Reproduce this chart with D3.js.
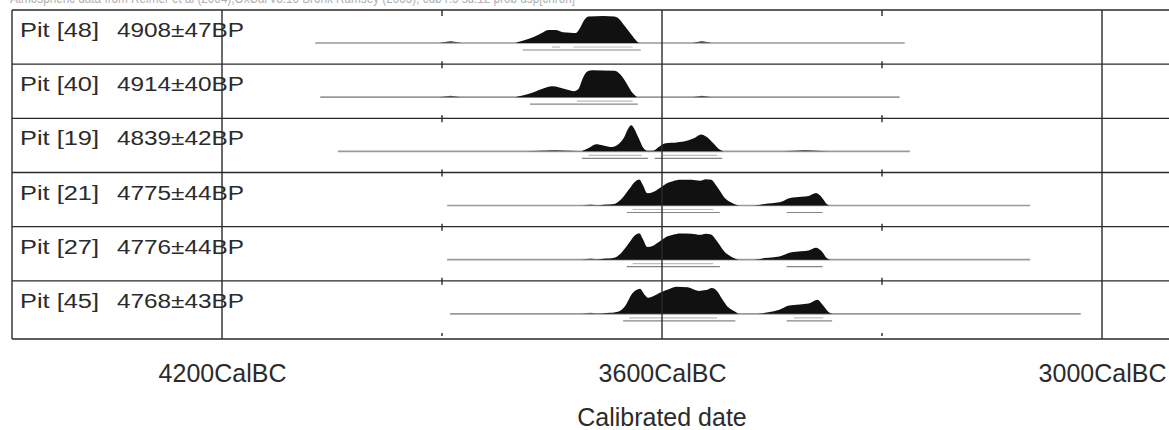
<!DOCTYPE html>
<html>
<head>
<meta charset="utf-8">
<script src="https://cdn.jsdelivr.net/npm/d3@7"></script>
<style>
body { margin: 0; background: #fff; overflow: hidden; }
text { font-family: "Liberation Sans", Arial, sans-serif; fill: #2b2b2b; }
</style>
</head>
<body>
<div id="grafica"></div>
<script>
// Datos
const muestras = ["Pit [48]", "Pit [40]", "Pit [19]", "Pit [21]", "Pit [27]", "Pit [45]"]
const fechasBP = ["4908±47BP", "4914±40BP", "4839±42BP", "4775±44BP", "4776±44BP", "4768±43BP"]
const ticksCal = [4200, 3600, 3000]
const ticksMenores = [3900, 3300]
const tituloEje = "Calibrated date"
const cabecera = "Atmospheric data from Reimer et al (2004);OxCal v3.10 Bronk Ramsey (2005); cub r:5 sd:12 prob usp[chron]"

// extension of the faint likelihood line (years BC)
const rangoGris = [[4073, 3269], [4066, 3276], [4042, 3262], [3893, 3098], [3893, 3098], [3889, 3029]]

// posterior densities [year BC, relative prob]
const densidad48 = [[3800, 0], [3790, 0.08], [3775, 0.22], [3762, 0.4], [3755, 0.48], [3745, 0.48], [3735, 0.4],
    [3725, 0.38], [3718, 0.37], [3712, 0.55], [3706, 0.85], [3700, 0.98], [3680, 1.0], [3665, 0.98],
    [3660, 0.93], [3650, 0.6], [3640, 0.25], [3633, 0.03], [3630, 0]]
const densidad40 = [[3800, 0], [3790, 0.06], [3775, 0.18], [3762, 0.32], [3750, 0.4], [3740, 0.36], [3730, 0.28],
    [3720, 0.22], [3714, 0.3], [3708, 0.7], [3702, 0.95], [3695, 1.0], [3665, 0.98], [3657, 0.85],
    [3648, 0.5], [3640, 0.15], [3634, 0]]
const densidad19 = [[3710, 0], [3700, 0.12], [3690, 0.26], [3680, 0.22], [3668, 0.16], [3660, 0.25], [3652, 0.5],
    [3646, 0.85], [3642, 0.97], [3638, 0.85], [3632, 0.5], [3626, 0.15], [3620, 0.02], [3612, 0.02],
    [3605, 0.15], [3595, 0.3], [3580, 0.33], [3565, 0.4], [3555, 0.5], [3547, 0.62], [3540, 0.55],
    [3530, 0.3], [3522, 0.08], [3516, 0]]
const densidad21 = [[3690, 0], [3680, 0.03], [3665, 0.06], [3655, 0.25], [3645, 0.6], [3636, 0.9], [3631, 0.96],
    [3626, 0.75], [3620, 0.45], [3612, 0.5], [3603, 0.65], [3595, 0.8], [3585, 0.9], [3575, 0.95],
    [3560, 0.95], [3548, 0.92], [3540, 0.97], [3533, 0.95], [3525, 0.7], [3515, 0.3], [3505, 0.1],
    [3498, 0.02], [3495, 0], [3475, 0], [3460, 0.06], [3440, 0.12], [3425, 0.28], [3410, 0.32],
    [3400, 0.35], [3390, 0.46], [3382, 0.3], [3375, 0.05], [3370, 0]]
const densidad27 = [[3690, 0], [3680, 0.03], [3665, 0.07], [3655, 0.27], [3645, 0.62], [3636, 0.92], [3631, 0.98],
    [3626, 0.76], [3620, 0.47], [3612, 0.52], [3603, 0.68], [3595, 0.83], [3585, 0.92], [3575, 0.97],
    [3560, 0.96], [3548, 0.92], [3540, 0.96], [3533, 0.93], [3525, 0.68], [3515, 0.3], [3505, 0.1],
    [3498, 0.02], [3495, 0], [3475, 0], [3460, 0.06], [3440, 0.12], [3425, 0.27], [3410, 0.31],
    [3400, 0.34], [3390, 0.44], [3382, 0.3], [3375, 0.05], [3370, 0]]
const densidad45 = [[3690, 0], [3675, 0.03], [3660, 0.08], [3650, 0.3], [3642, 0.7], [3635, 0.88], [3630, 0.93],
    [3624, 0.72], [3619, 0.6], [3610, 0.68], [3603, 0.78], [3590, 0.92], [3580, 1.0], [3565, 0.98],
    [3550, 0.85], [3540, 0.88], [3532, 0.96], [3525, 0.85], [3518, 0.55], [3510, 0.25], [3500, 0.08],
    [3494, 0], [3470, 0], [3455, 0.06], [3440, 0.15], [3428, 0.3], [3412, 0.35], [3400, 0.38],
    [3388, 0.52], [3380, 0.3], [3372, 0.05], [3368, 0]]
const densidades = [densidad48, densidad40, densidad19, densidad21, densidad27, densidad45]

// small tails on the gray line [from, to, prob]
const colas = [
    [[3904, 3873, 0.07], [3559, 3532, 0.07]],
    [[3904, 3873, 0.05], [3559, 3532, 0.05]],
    [[3784, 3709, 0.05], [3435, 3374, 0.05]],
    [[3710, 3685, 0.04]],
    [[3710, 3685, 0.04]],
    [[3710, 3685, 0.04]]
]

// 68.2% and 95.4% ranges
const rangos68 = [[[3750, 3739], [3721, 3640]], [[3716, 3640]], [[3700, 3628], [3600, 3525]],
    [[3640, 3530]], [[3640, 3530]], [[3645, 3525], [3420, 3380]]]
const rangos95 = [[[3790, 3629]], [[3780, 3633]], [[3709, 3619], [3610, 3518]],
    [[3648, 3521], [3430, 3381]], [[3648, 3521], [3430, 3381]], [[3653, 3500], [3430, 3368]]]

const anchoTotal = 1169
const altoTotal = 430

const svg = d3.select("#grafica").append("svg")
    .attr("width", anchoTotal)
    .attr("height", altoTotal)

// Escaladores
const x = d3.scaleLinear().domain([4200, 3000]).range([222, 1102])
const filas = d3.scaleBand().domain(muestras).range([10, 335])
const altoProb = d3.scaleLinear().domain([0, 1]).range([0, 27])
const bordeIzq = 12
const bordeInf = 339
const base = (i) => filas(muestras[i]) + 33

// header, cut off at the top like in the original
svg.append("text")
    .attr("x", 10).attr("y", 3)
    .attr("font-size", 15)
    .attr("textLength", 565)
    .attr("lengthAdjust", "spacingAndGlyphs")
    .style("fill", "#b0b0b0")
    .text(cabecera)

// gray likelihood lines
const g = svg.append("g")
g.selectAll(".gris").data(rangoGris).join("line")
    .attr("x1", d => x(d[0])).attr("x2", d => x(d[1]))
    .attr("y1", (d, i) => base(i)).attr("y2", (d, i) => base(i))
    .attr("stroke", "#9a9a9a").attr("stroke-width", 1.6)

colas.forEach((lista, i) => {
    g.selectAll(null).data(lista).join("path")
        .attr("d", d => `M${x(d[0])},${base(i)}L${x((d[0] + d[1]) / 2)},${base(i) - altoProb(d[2])}L${x(d[1])},${base(i)}Z`)
        .attr("fill", "#555")
})

// densities
densidades.forEach((dens, i) => {
    const area = d3.area()
        .x(d => x(d[0]))
        .y0(base(i))
        .y1(d => base(i) - altoProb(d[1]))
        .curve(d3.curveMonotoneX)
    g.append("path").datum(dens)
        .attr("d", area)
        .attr("fill", "#111")
})

// ranges
const dibujarRangos = (rangos, dy, color) => {
    rangos.forEach((lista, i) => {
        g.selectAll(null).data(lista).join("line")
            .attr("x1", d => x(d[0])).attr("x2", d => x(d[1]))
            .attr("y1", base(i) + dy).attr("y2", base(i) + dy)
            .attr("stroke", color).attr("stroke-width", 1.2)
    })
}
dibujarRangos(rangos68, 4, "#bdbdbd")
dibujarRangos(rangos95, 7, "#858585")

// frame
const marco = svg.append("g").attr("stroke", "#2a2a2a").attr("stroke-width", 1.4)
const lineasH = muestras.map(m => filas(m)).concat([bordeInf])
marco.selectAll(".h").data(lineasH).join("line")
    .attr("x1", bordeIzq).attr("x2", anchoTotal)
    .attr("y1", d => d).attr("y2", d => d)
marco.selectAll(".v").data(ticksCal).join("line")
    .attr("x1", d => x(d)).attr("x2", d => x(d))
    .attr("y1", 10).attr("y2", bordeInf)
marco.append("line")
    .attr("x1", bordeIzq).attr("x2", bordeIzq)
    .attr("y1", 10).attr("y2", bordeInf)

// small ticks on every row line
lineasH.forEach((yy, k) => {
    marco.selectAll(null).data(ticksMenores).join("line")
        .attr("x1", d => x(d)).attr("x2", d => x(d))
        .attr("y1", k === 0 ? yy : yy - 3)
        .attr("y2", k === lineasH.length - 1 ? yy - 6 : yy + (k === 0 ? 6 : 4))
})

// row labels
const etiquetas = svg.append("g")
etiquetas.selectAll(".nombre").data(muestras).join("text")
    .attr("x", 20)
    .attr("y", d => filas(d) + 27)
    .attr("font-size", 20)
    .attr("textLength", 79)
    .attr("lengthAdjust", "spacingAndGlyphs")
    .text(d => d)
etiquetas.selectAll(".fecha").data(fechasBP).join("text")
    .attr("x", 117)
    .attr("y", (d, i) => filas(muestras[i]) + 27)
    .attr("font-size", 20)
    .attr("textLength", 127)
    .attr("lengthAdjust", "spacingAndGlyphs")
    .text(d => d)

// Ejes
const xAxis = d3.axisBottom(x)
    .tickValues(ticksCal)
    .tickFormat(d => d + "CalBC")
    .tickSize(0)
const xAxisGroup = svg.append("g")
    .attr("transform", "translate(0, 382)")
    .call(xAxis)
xAxisGroup.select(".domain").remove()
xAxisGroup.selectAll("text")
    .attr("y", 0).attr("dy", 0)
    .attr("font-size", 25)
    .attr("font-family", null)
    .style("fill", "#2b2b2b")

svg.append("text")
    .attr("x", x(3600))
    .attr("y", 426)
    .attr("text-anchor", "middle")
    .attr("font-size", 25)
    .text(tituloEje)
</script>
</body>
</html>
